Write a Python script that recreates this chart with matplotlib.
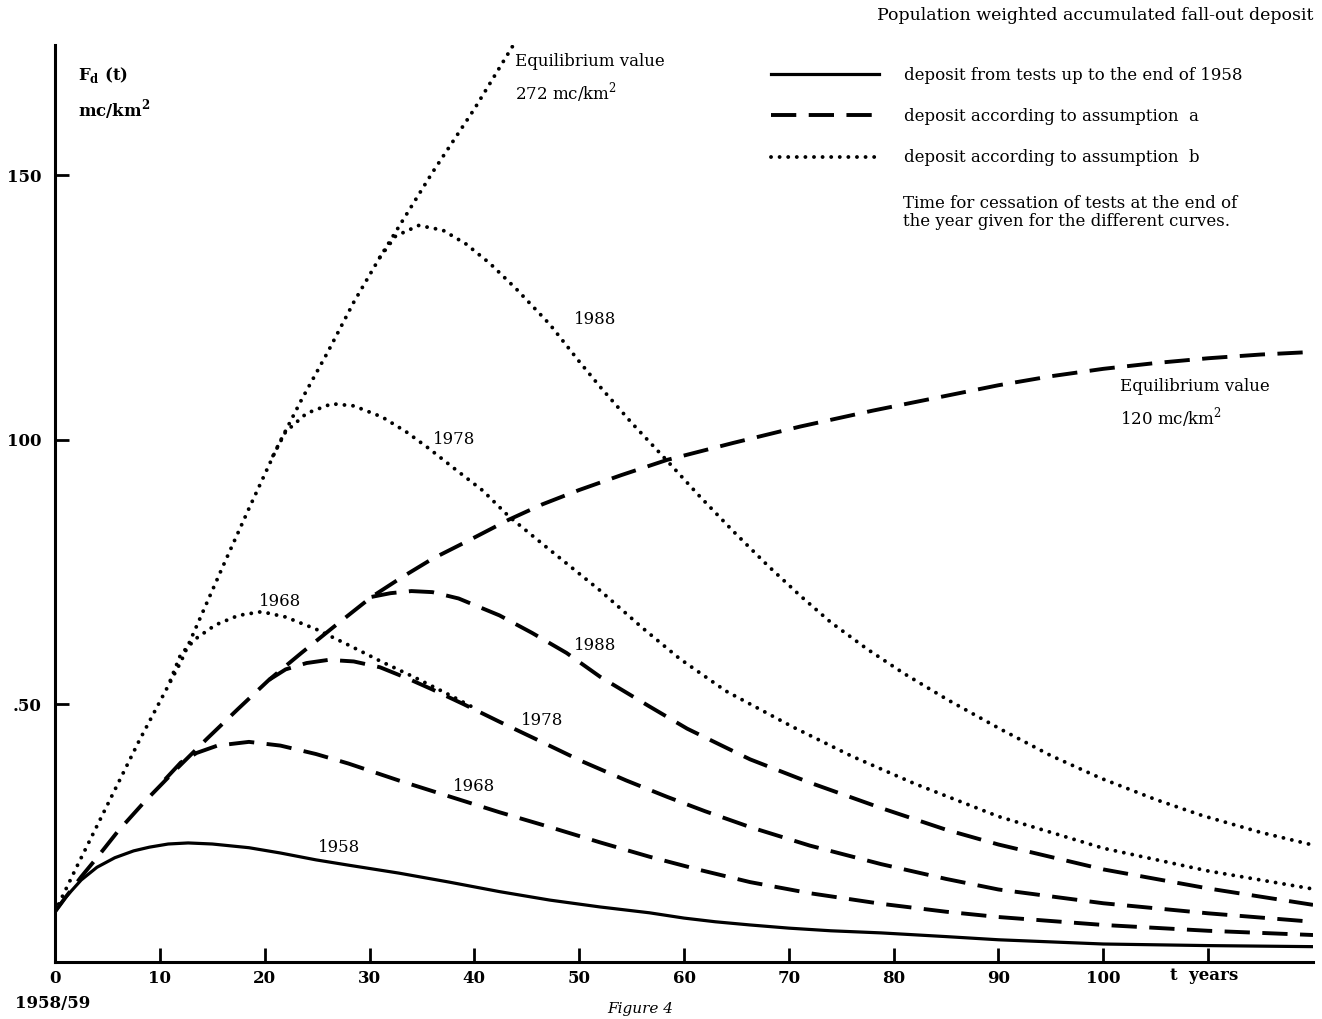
import matplotlib
matplotlib.use("Agg")
import matplotlib.pyplot as plt
from matplotlib.lines import Line2D

# ---- data (t in years after 1958/59, deposit in mc/km^2) ----
solid_1958_t = [0, 1, 2.5, 4, 5.7, 7.5, 9, 10.8, 12.7, 15, 18.5, 21.5, 24.9, 28, 32.8, 37.6, 42.4,
                47.2, 52, 56.7, 60, 63, 66.3, 70, 74, 78.8, 85, 90, 95, 100, 110, 120]
solid_1958_y = [10.8, 13.5, 16.8, 19.2, 21, 22.3, 23, 23.6, 23.8, 23.6, 22.9, 21.9, 20.6, 19.6, 18.1,
                16.4, 14.6, 13, 11.7, 10.6, 9.6, 8.9, 8.3, 7.7, 7.2, 6.8, 6.1, 5.5, 5.1, 4.7, 4.4, 4.2]

env_a_t = [0, 1, 2.5, 4, 6, 8.5, 11.5, 14.5, 17.5, 20.4, 23.5, 26.5, 30.2, 33, 36, 39.5, 43.3, 46.5,
           50, 54, 58.4, 64.7, 71.1, 78, 85.5, 90, 95, 100, 105, 110, 115, 120]
env_a_y = [10.8, 13.5, 17.4, 21, 26, 31.5, 37.6, 43.5, 49.2, 54.6, 59.7, 64.5, 70.3, 73.9, 77.5, 81,
           84.9, 87.8, 90.5, 93.3, 96.2, 99.4, 102.5, 105.5, 108.5, 110.3, 112, 113.4, 114.5, 115.4,
           116.1, 116.6]

a_1968_t = [10.5, 12, 13.5, 15.5, 18.5, 21.5, 24.9, 28, 32.8, 37.6, 42.4, 47.2, 52, 56.7, 61.5, 66.3,
            72, 78.8, 85, 90, 100, 110, 120]
a_1968_y = [35.8, 39, 40.8, 42.2, 42.9, 42.2, 40.6, 38.8, 35.6, 32.6, 29.6, 26.8, 23.9, 21.2, 18.7,
            16.4, 14.3, 12.3, 10.8, 9.8, 8.3, 7.2, 6.4]

a_1978_t = [20.4, 22, 24, 26.1, 28.5, 31, 33.5, 36, 39, 42.4, 46, 50.3, 54.5, 58.4, 62, 66.3, 72,
            78.8, 85, 90, 100, 110, 120]
a_1978_y = [54.6, 56.6, 57.8, 58.4, 58.1, 57, 55.0, 52.8, 50.0, 46.7, 43.3, 39.2, 35.6, 32.5, 29.8,
            26.8, 23.3, 19.8, 17, 15, 12.4, 10.5, 8.9]

a_1988_t = [30.2, 32, 34, 36, 38.5, 42.4, 45.5, 48.8, 52, 56.7, 60.3, 63.5, 66.3, 72, 78.8, 85, 90,
            100, 110, 120]
a_1988_y = [70.3, 71.0, 71.4, 71.2, 70, 66.8, 63.5, 59.7, 55.2, 49.6, 45.4, 42.3, 39.6, 35.2, 30.4,
            26.3, 23.5, 18.8, 15.2, 12.1]

env_b_t = [0, 2, 4, 6, 8, 10, 12, 14, 16, 18.5, 21.3, 23.5, 26, 28.5, 31, 33.5, 36, 38, 40, 42, 44]
env_b_y = [10.8, 19, 27, 35, 43, 50.5, 58, 67, 76, 87, 99, 107.5, 116.5, 126, 134.5, 142.5, 150.5,
           156.5, 162.5, 169, 175.5]

b_1968_t = [11, 12, 13.5, 15.3, 17.5, 19.7, 22, 24.9, 28, 31, 34.4, 37.6, 40]
b_1968_y = [54.5, 59.5, 62.5, 65, 66.8, 67.5, 66.5, 64.2, 61.2, 58.2, 55, 51.8, 49.3]

b_1978_t = [20.8, 22, 24, 26.4, 28.5, 31.2, 33.5, 35.7, 38, 40.8, 43.3, 47, 52, 56, 59.6, 64, 70.4,
            76, 82, 90, 100, 110, 120]
b_1978_y = [97, 101.5, 105, 106.8, 106.4, 104.3, 101.5, 98.3, 94.7, 90.4, 85.5, 79.5, 71.5, 64.5,
            58.6, 52.5, 45.7, 40.2, 35, 28.8, 22.8, 18.5, 15.1]

b_1988_t = [31, 32.5, 34.7, 37, 39.2, 41.5, 44, 47.2, 50, 52, 55, 58.4, 61.5, 64.7, 68, 71.1, 74,
            77.5, 81, 85.2, 90.2, 95, 99.8, 105, 109.4, 115, 120]
b_1988_y = [134.5, 138.5, 140.5, 139.6, 137, 133.3, 128.5, 121.8, 114.8, 110, 103.2, 96, 89.3, 82.7,
            76.2, 70.5, 65.5, 60.4, 55.8, 50.8, 45.3, 40.3, 36, 32, 29, 25.8, 23.4]

x_ticks = [0, 10, 20, 30, 40, 50, 60, 70, 80, 90, 100, 110]
x_tick_labels = ['0', '10', '20', '30', '40', '50', '60', '70', '80', '90', '100', '']
y_ticks = [50, 100, 150]
y_tick_labels = ['.50', '100', '150']

# ---- styles ----
SERIF = 'DejaVu Serif'
DASH = (0, (6.5, 3.2))
DOT = (0, (0.01, 2.2))
LW_SOLID = 2.3
LW_DASH = 2.8
LW_DOT = 2.8

fig = plt.figure(figsize=(13.22, 10.19), dpi=100)
ax = fig.add_axes([55 / 1322, 1 - 962 / 1019, (1313 - 55) / 1322, (962 - 45) / 1019])

ax.plot(solid_1958_t, solid_1958_y, color='black', lw=LW_SOLID, solid_capstyle='round',
        solid_joinstyle='round')
for t, y in [(env_a_t, env_a_y), (a_1968_t, a_1968_y), (a_1978_t, a_1978_y), (a_1988_t, a_1988_y)]:
    ax.plot(t, y, color='black', lw=LW_DASH, linestyle=DASH, dash_capstyle='butt',
            dash_joinstyle='round')
for t, y in [(env_b_t, env_b_y), (b_1968_t, b_1968_y), (b_1978_t, b_1978_y), (b_1988_t, b_1988_y)]:
    ax.plot(t, y, color='black', lw=LW_DOT, linestyle=DOT, dash_capstyle='round')

ax.set_xlim(0, 120)
ax.set_ylim(1.3, 174.6)
for side in ['top', 'right']:
    ax.spines[side].set_visible(False)
for side in ['left', 'bottom']:
    ax.spines[side].set_linewidth(2.2)

ax.set_xticks(x_ticks)
ax.set_xticklabels(x_tick_labels, fontfamily=SERIF, fontweight='bold', fontsize=12)
ax.set_yticks(y_ticks)
ax.set_yticklabels(y_tick_labels, fontfamily=SERIF, fontweight='bold', fontsize=12)
ax.tick_params(axis='both', direction='in', length=10, width=2)
ax.tick_params(axis='x', pad=6)
ax.tick_params(axis='y', pad=10)

# curve labels
lab = dict(fontfamily=SERIF, fontsize=12, ha='center', va='center')
ax.text(51.5, 122.7, '1988', **lab)
ax.text(38.1, 100.0, '1978', **lab)
ax.text(21.5, 69.5, '1968', **lab)
ax.text(51.5, 61.2, '1988', **lab)
ax.text(46.5, 46.9, '1978', **lab)
ax.text(40.0, 34.4, '1968', **lab)
ax.text(27.1, 23.0, '1958', **lab)

# axis annotations (figure pixel positions)
def fx(px):
    return px / 1322

def fy(py):
    return 1 - py / 1019

txt = dict(fontfamily=SERIF, fontsize=12, fontweight='bold')
fig.text(fx(78), fy(75), r'F$_\mathregular{d}$ (t)', va='center', ha='left', **txt)
fig.text(fx(78), fy(110), r'mc/km$^\mathregular{2}$', va='center', ha='left', **txt)
fig.text(fx(515), fy(62), 'Equilibrium value', va='center', ha='left', fontfamily=SERIF, fontsize=12)
fig.text(fx(515), fy(93), r'272 mc/km$^\mathregular{2}$', va='center', ha='left', fontfamily=SERIF, fontsize=12)
fig.text(fx(1120), fy(387), 'Equilibrium value', va='center', ha='left', fontfamily=SERIF, fontsize=12)
fig.text(fx(1120), fy(418), r'120 mc/km$^\mathregular{2}$', va='center', ha='left', fontfamily=SERIF, fontsize=12)
fig.text(fx(1170), fy(975), 't  years', va='center', ha='left', **txt)
fig.text(fx(15), fy(1003), '1958/59', va='center', ha='left', **txt)
fig.text(fx(640), fy(1009), 'Figure 4', va='center', ha='center', fontfamily=SERIF,
         fontsize=11, style='italic')

# legend block
fig.text(fx(1313), fy(16), 'Population weighted accumulated fall-out deposit', va='center',
         ha='right', fontfamily=SERIF, fontsize=12.5)
handles = [Line2D([], [], color='black', lw=LW_SOLID),
           Line2D([], [], color='black', lw=LW_DASH, linestyle=DASH),
           Line2D([], [], color='black', lw=LW_DOT, linestyle=DOT, dash_capstyle='round')]
labels = ['deposit from tests up to the end of 1958',
          'deposit according to assumption  a',
          'deposit according to assumption  b']
fig.legend(handles, labels, loc='upper left', bbox_to_anchor=(fx(756), fy(52)),
           frameon=False, handlelength=6.5, handletextpad=1.5, labelspacing=1.45,
           prop={'family': SERIF, 'size': 12})
fig.text(fx(903), fy(203), 'Time for cessation of tests at the end of', va='center',
         ha='left', fontfamily=SERIF, fontsize=12)
fig.text(fx(903), fy(221), 'the year given for the different curves.', va='center',
         ha='left', fontfamily=SERIF, fontsize=12)

fig.savefig('out.png', dpi=100, facecolor='white')
